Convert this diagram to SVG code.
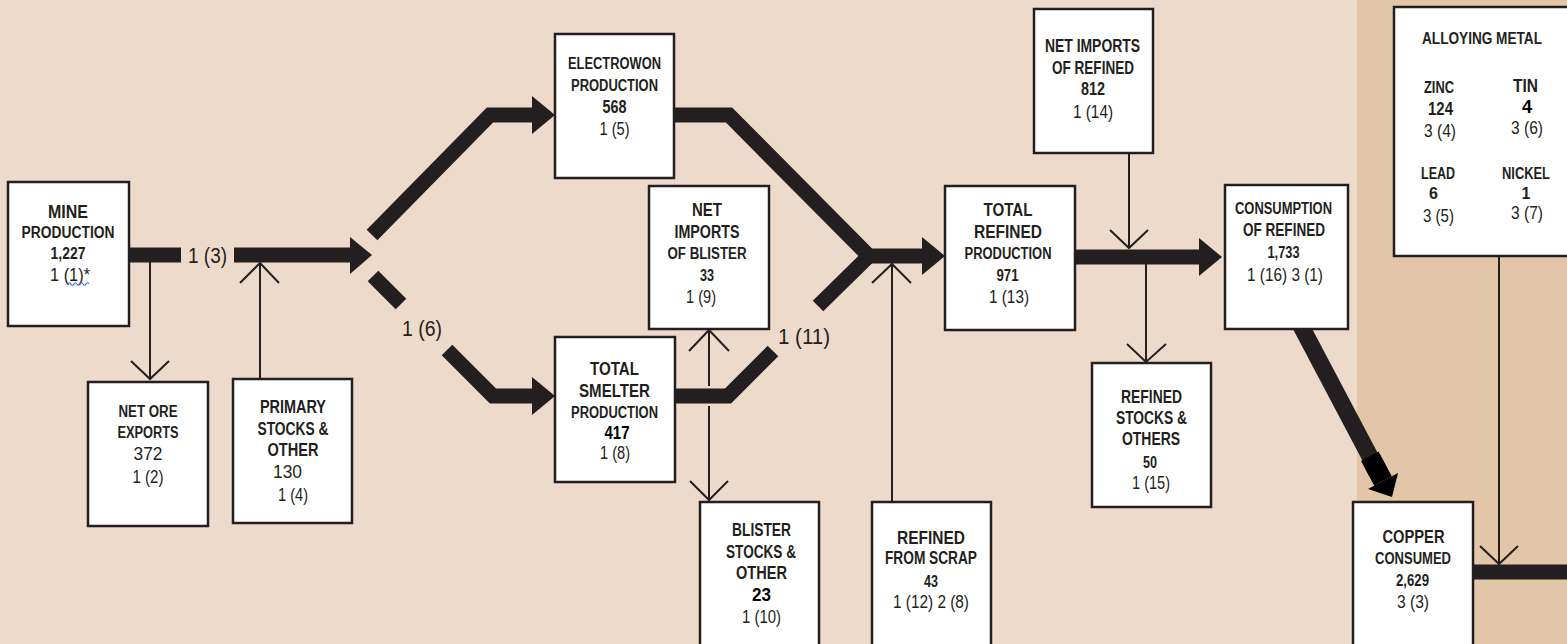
<svg xmlns="http://www.w3.org/2000/svg" width="1567" height="644" viewBox="0 0 1567 644">
<defs>
<style>
text{fill:#231f20;text-anchor:middle;dominant-baseline:central;font-family:"Liberation Sans",Arial,sans-serif}
.b{font-weight:700;font-size:18px}
.s{font-weight:700;font-size:16px}
.v{font-weight:700;font-size:16px}
.k{font-weight:700;font-size:18px;fill:#000}
.r{font-weight:400;font-size:18px}
.lbl{font-weight:400;font-size:22px}
.box{fill:#fff;stroke:#231f20;stroke-width:2.5}
.thick{fill:none;stroke:#231f20;stroke-width:15;stroke-linejoin:miter;stroke-linecap:butt}
.thin{fill:none;stroke:#231f20;stroke-width:2}
.head{fill:#231f20}
</style>
</defs>
<rect x="0" y="0" width="1567" height="644" fill="#EEDACA"/>
<rect x="1357" y="0" width="210" height="644" fill="#E3C6A8"/>

<g id="connectors">
  <line class="thick" x1="128" y1="255" x2="181" y2="255"/>
  <line class="thick" x1="234" y1="255" x2="352" y2="255"/>
  <polygon class="head" points="350,237 372,255 350,274"/>
  <polyline class="thick" points="372,235 490,115 534,115"/>
  <polygon class="head" points="532,96 555,115 532,134"/>
  <line class="thick" x1="373" y1="276" x2="401" y2="304"/>
  <polyline class="thick" points="447,350 493,396 534,396"/>
  <polygon class="head" points="532,377 555,396 532,415"/>
  <polyline class="thick" points="674,115 729,115 869,256 924,256"/>
  <polyline class="thick" points="675,396 728,396 773,351"/>
  <line class="thick" x1="818" y1="306" x2="869" y2="256"/>
  <polygon class="head" points="922,237 945,256 922,275"/>
  <line class="thick" x1="1075" y1="257" x2="1201" y2="257"/>
  <polygon class="head" points="1199,238 1222,257 1199,276"/>
  <line x1="1301" y1="326" x2="1376" y2="468" stroke="#231f20" stroke-width="17"/>
  <polygon fill="#000" points="1378.6,451.6 1361,461 1374.2,485.7 1391.8,476.3"/>
  <polygon fill="#000" points="1398,473 1368,489 1392,497"/>
  <line class="thick" x1="1473" y1="572" x2="1567" y2="572"/>

  <line class="thin" x1="150" y1="262" x2="150" y2="379"/>
  <polyline class="thin" points="131,361 150,379 169,361"/>
  <line class="thin" x1="260" y1="379" x2="260" y2="263"/>
  <polyline class="thin" points="240,283 260,263 279,283"/>
  <line class="thin" x1="709" y1="330" x2="709" y2="386"/>
  <line class="thin" x1="709" y1="406" x2="709" y2="500"/>
  <polyline class="thin" points="689,351 709,330 729,351"/>
  <polyline class="thin" points="690,481 709,500 728,481"/>
  <line class="thin" x1="892" y1="502" x2="892" y2="264"/>
  <polyline class="thin" points="872,283 892,264 911,283"/>
  <line class="thin" x1="1129" y1="153" x2="1129" y2="248"/>
  <polyline class="thin" points="1110,230 1129,248 1148,230"/>
  <line class="thin" x1="1146" y1="264" x2="1146" y2="362"/>
  <polyline class="thin" points="1127,344 1146,362 1166,344"/>
  <line class="thin" x1="1499" y1="256" x2="1499" y2="564"/>
  <polyline class="thin" points="1480,546 1499,564 1518,546"/>

  <text class="lbl" x="207.5" y="255" textLength="39" lengthAdjust="spacingAndGlyphs">1 (3)</text>
  <text class="lbl" x="422" y="328" textLength="40" lengthAdjust="spacingAndGlyphs">1 (6)</text>
  <text class="lbl" x="804" y="336" textLength="52" lengthAdjust="spacingAndGlyphs">1 (11)</text>
</g>

<g id="mine-production">
  <rect class="box" x="8" y="182" width="121" height="144"/>
  <text class="b" x="68" y="212" textLength="40" lengthAdjust="spacingAndGlyphs">MINE</text>
  <text class="s" x="68" y="232" textLength="93" lengthAdjust="spacingAndGlyphs">PRODUCTION</text>
  <text class="v" x="68" y="253" textLength="35" lengthAdjust="spacingAndGlyphs">1,227</text>
  <text class="r" x="70" y="275" textLength="40" lengthAdjust="spacingAndGlyphs">1 (1)*</text>
  <path d="M68 284 q1.5 -2.5 3 0 t3 0 t3 0 t3 0 t3 0 t3 0 t3 0" fill="none" stroke="#2f6fe0" stroke-width="1.2"/>
</g>

<g id="net-ore-exports">
  <rect class="box" x="88" y="382" width="120" height="144"/>
  <text class="s" x="148" y="411" textLength="59" lengthAdjust="spacingAndGlyphs">NET ORE</text>
  <text class="s" x="148" y="432" textLength="61" lengthAdjust="spacingAndGlyphs">EXPORTS</text>
  <text class="r" x="148" y="454" textLength="29" lengthAdjust="spacingAndGlyphs">372</text>
  <text class="r" x="148" y="477" textLength="31" lengthAdjust="spacingAndGlyphs">1 (2)</text>
</g>

<g id="primary-stocks">
  <rect class="box" x="233" y="379" width="119" height="144"/>
  <text class="b" x="293" y="407" textLength="66" lengthAdjust="spacingAndGlyphs">PRIMARY</text>
  <text class="b" x="293" y="429" textLength="71" lengthAdjust="spacingAndGlyphs">STOCKS &amp;</text>
  <text class="b" x="293" y="450" textLength="51" lengthAdjust="spacingAndGlyphs">OTHER</text>
  <text class="r" x="287.5" y="472" textLength="29" lengthAdjust="spacingAndGlyphs">130</text>
  <text class="r" x="293" y="495" textLength="30" lengthAdjust="spacingAndGlyphs">1 (4)</text>
</g>

<g id="electrowon-production">
  <rect class="box" x="555" y="34" width="119" height="144"/>
  <text class="s" x="614.5" y="63" textLength="93" lengthAdjust="spacingAndGlyphs">ELECTROWON</text>
  <text class="s" x="614.5" y="85" textLength="87" lengthAdjust="spacingAndGlyphs">PRODUCTION</text>
  <text class="b" x="614.5" y="107" textLength="24" lengthAdjust="spacingAndGlyphs">568</text>
  <text class="r" x="614.5" y="129" textLength="30" lengthAdjust="spacingAndGlyphs">1 (5)</text>
</g>

<g id="net-imports-blister">
  <rect class="box" x="649" y="186" width="120" height="143"/>
  <text class="b" x="707" y="210" textLength="30" lengthAdjust="spacingAndGlyphs">NET</text>
  <text class="b" x="707" y="232" textLength="65" lengthAdjust="spacingAndGlyphs">IMPORTS</text>
  <text class="s" x="707" y="253" textLength="79" lengthAdjust="spacingAndGlyphs">OF BLISTER</text>
  <text class="v" x="707" y="275" textLength="14" lengthAdjust="spacingAndGlyphs">33</text>
  <text class="r" x="701" y="297" textLength="30" lengthAdjust="spacingAndGlyphs">1 (9)</text>
</g>

<g id="total-smelter-production">
  <rect class="box" x="555" y="337" width="120" height="145"/>
  <text class="b" x="614.5" y="369" textLength="49" lengthAdjust="spacingAndGlyphs">TOTAL</text>
  <text class="b" x="614.5" y="391" textLength="71" lengthAdjust="spacingAndGlyphs">SMELTER</text>
  <text class="s" x="614.5" y="412" textLength="87" lengthAdjust="spacingAndGlyphs">PRODUCTION</text>
  <text class="k" x="617" y="433" textLength="25" lengthAdjust="spacingAndGlyphs">417</text>
  <text class="r" x="615" y="453" textLength="30" lengthAdjust="spacingAndGlyphs">1 (8)</text>
</g>

<g id="blister-stocks">
  <rect class="box" x="700" y="502" width="119" height="160"/>
  <text class="b" x="761.5" y="530" textLength="59" lengthAdjust="spacingAndGlyphs">BLISTER</text>
  <text class="b" x="761" y="552" textLength="70" lengthAdjust="spacingAndGlyphs">STOCKS &amp;</text>
  <text class="b" x="761.5" y="573" textLength="51" lengthAdjust="spacingAndGlyphs">OTHER</text>
  <text class="k" x="761.5" y="595" textLength="19" lengthAdjust="spacingAndGlyphs">23</text>
  <text class="r" x="761.5" y="617" textLength="39" lengthAdjust="spacingAndGlyphs">1 (10)</text>
</g>

<g id="refined-from-scrap">
  <rect class="box" x="872" y="502" width="119" height="160"/>
  <text class="b" x="931" y="538" textLength="68" lengthAdjust="spacingAndGlyphs">REFINED</text>
  <text class="b" x="931" y="558" textLength="92" lengthAdjust="spacingAndGlyphs">FROM SCRAP</text>
  <text class="v" x="931" y="581" textLength="14" lengthAdjust="spacingAndGlyphs">43</text>
  <text class="r" x="931" y="602" textLength="76" lengthAdjust="spacingAndGlyphs">1 (12) 2 (8)</text>
</g>

<g id="total-refined-production">
  <rect class="box" x="945" y="186" width="130" height="144"/>
  <text class="b" x="1008" y="210" textLength="49" lengthAdjust="spacingAndGlyphs">TOTAL</text>
  <text class="b" x="1008" y="232" textLength="68" lengthAdjust="spacingAndGlyphs">REFINED</text>
  <text class="s" x="1008" y="253" textLength="87" lengthAdjust="spacingAndGlyphs">PRODUCTION</text>
  <text class="v" x="1007.5" y="275" textLength="22" lengthAdjust="spacingAndGlyphs">971</text>
  <text class="r" x="1009" y="297" textLength="40" lengthAdjust="spacingAndGlyphs">1 (13)</text>
</g>

<g id="net-imports-refined">
  <rect class="box" x="1034" y="9" width="119" height="144"/>
  <text class="b" x="1092.5" y="46" textLength="95" lengthAdjust="spacingAndGlyphs">NET IMPORTS</text>
  <text class="b" x="1093" y="68" textLength="82" lengthAdjust="spacingAndGlyphs">OF REFINED</text>
  <text class="b" x="1093" y="89" textLength="24" lengthAdjust="spacingAndGlyphs">812</text>
  <text class="r" x="1093" y="112" textLength="40" lengthAdjust="spacingAndGlyphs">1 (14)</text>
</g>

<g id="refined-stocks">
  <rect class="box" x="1092" y="363" width="119" height="144"/>
  <text class="b" x="1151.5" y="397" textLength="61" lengthAdjust="spacingAndGlyphs">REFINED</text>
  <text class="b" x="1151.5" y="418" textLength="71" lengthAdjust="spacingAndGlyphs">STOCKS &amp;</text>
  <text class="b" x="1151" y="439" textLength="58" lengthAdjust="spacingAndGlyphs">OTHERS</text>
  <text class="v" x="1150" y="462" textLength="14" lengthAdjust="spacingAndGlyphs">50</text>
  <text class="r" x="1151" y="483" textLength="38" lengthAdjust="spacingAndGlyphs">1 (15)</text>
</g>

<g id="consumption-of-refined">
  <rect class="box" x="1225" y="185" width="123" height="144"/>
  <text class="s" x="1283.5" y="208" textLength="97" lengthAdjust="spacingAndGlyphs">CONSUMPTION</text>
  <text class="b" x="1284" y="230" textLength="82" lengthAdjust="spacingAndGlyphs">OF REFINED</text>
  <text class="v" x="1283.5" y="252" textLength="32" lengthAdjust="spacingAndGlyphs">1,733</text>
  <text class="r" x="1285" y="275" textLength="76" lengthAdjust="spacingAndGlyphs">1 (16) 3 (1)</text>
</g>

<g id="copper-consumed">
  <rect class="box" x="1353" y="502" width="120" height="160"/>
  <text class="b" x="1413.5" y="537" textLength="62" lengthAdjust="spacingAndGlyphs">COPPER</text>
  <text class="s" x="1413" y="558" textLength="76" lengthAdjust="spacingAndGlyphs">CONSUMED</text>
  <text class="v" x="1412.5" y="580" textLength="33" lengthAdjust="spacingAndGlyphs">2,629</text>
  <text class="r" x="1413" y="602" textLength="32" lengthAdjust="spacingAndGlyphs">3 (3)</text>
</g>

<g id="alloying-metal">
  <rect class="box" x="1394" y="7" width="200" height="249"/>
  <text class="s" x="1482" y="38" font-size="15" textLength="120" lengthAdjust="spacingAndGlyphs">ALLOYING  METAL</text>
  <text class="s" x="1439" y="87" font-size="15" textLength="30" lengthAdjust="spacingAndGlyphs">ZINC</text>
  <text class="b" x="1440.5" y="109" font-size="17" textLength="25" lengthAdjust="spacingAndGlyphs">124</text>
  <text class="r" x="1440" y="131" textLength="32" lengthAdjust="spacingAndGlyphs">3 (4)</text>
  <text class="b" x="1525.5" y="86" font-size="17" textLength="25" lengthAdjust="spacingAndGlyphs">TIN</text>
  <text class="k" x="1527" y="107">4</text>
  <text class="r" x="1527" y="128" textLength="32" lengthAdjust="spacingAndGlyphs">3 (6)</text>
  <text class="s" x="1438" y="173" font-size="15" textLength="34" lengthAdjust="spacingAndGlyphs">LEAD</text>
  <text class="v" x="1433.5" y="193" font-size="15">6</text>
  <text class="r" x="1438.5" y="216" textLength="31" lengthAdjust="spacingAndGlyphs">3 (5)</text>
  <text class="s" x="1526" y="173" font-size="15" textLength="48" lengthAdjust="spacingAndGlyphs">NICKEL</text>
  <text class="v" x="1526" y="193" font-size="15">1</text>
  <text class="r" x="1527" y="213" textLength="32" lengthAdjust="spacingAndGlyphs">3 (7)</text>
</g>
</svg>
